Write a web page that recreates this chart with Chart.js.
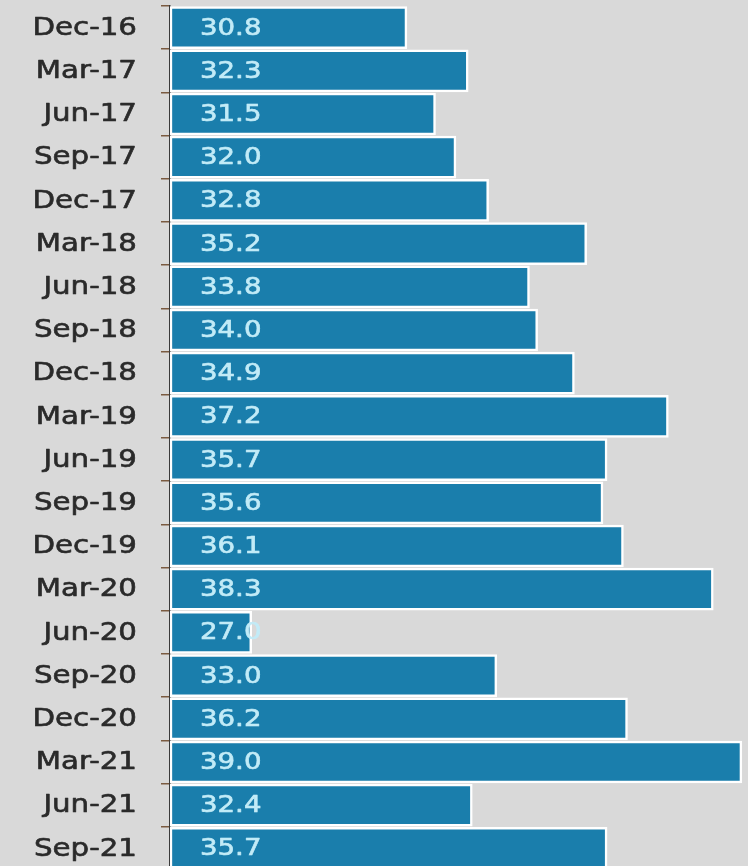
<!DOCTYPE html>
<html>
<head>
<meta charset="utf-8">
<script src="https://cdn.jsdelivr.net/npm/chart.js@4/dist/chart.umd.min.js"></script>
<style>
  html, body { margin: 0; padding: 0; background: #d9d9d9; overflow: hidden; }
</style>
</head>
<body>
<canvas id="chart" width="748" height="870"></canvas>
<script>
const quarters = ['Dec-16', 'Mar-17', 'Jun-17', 'Sep-17', 'Dec-17', 'Mar-18', 'Jun-18', 'Sep-18', 'Dec-18', 'Mar-19',
  'Jun-19', 'Sep-19', 'Dec-19', 'Mar-20', 'Jun-20', 'Sep-20', 'Dec-20', 'Mar-21', 'Jun-21', 'Sep-21'];
const values = [30.8, 32.3, 31.5, 32.0, 32.8, 35.2, 33.8, 34.0, 34.9, 37.2,
  35.7, 35.6, 36.1, 38.3, 27.0, 33.0, 36.2, 39.0, 32.4, 35.7];

const FONT = '"DejaVu Sans", sans-serif';

// the source type is a wide geometric face, so stretch DejaVu a little
function wideText(ctx, text, x, y, align, stretch) {
  ctx.save();
  ctx.translate(x, y);
  ctx.scale(stretch, 1);
  ctx.textAlign = align;
  ctx.strokeText(text, 0, 0);
  ctx.fillText(text, 0, 0);
  ctx.restore();
}

// category names on the left and value text inside each bar start
const textPlugin = {
  id: 'textPlugin',
  afterDatasetsDraw(chart) {
    const { ctx } = chart;
    const yScale = chart.scales.y;
    ctx.save();
    ctx.textBaseline = 'middle';
    ctx.lineWidth = 0.6;
    ctx.lineJoin = 'round';

    ctx.font = `24px ${FONT}`;
    ctx.fillStyle = ctx.strokeStyle = '#2a2a2a';
    yScale.ticks.forEach((t, i) => {
      wideText(ctx, yScale.getLabelForValue(t.value), 137, yScale.getPixelForTick(i) + 1, 'right', 1.22);
    });

    ctx.font = `23px ${FONT}`;
    ctx.fillStyle = ctx.strokeStyle = '#c2ebf7';
    chart.getDatasetMeta(0).data.forEach((bar, i) => {
      wideText(ctx, values[i].toFixed(1), bar.base + 30, bar.y + 1, 'left', 1.2);
    });
    ctx.restore();
  }
};

new Chart(document.getElementById('chart'), {
  type: 'bar',
  plugins: [textPlugin],
  data: {
    labels: quarters,
    datasets: [{
      data: values,
      base: 25,
      backgroundColor: '#1a7eac',
      borderColor: '#ffffff',
      borderWidth: 2.5,
      borderSkipped: false,
      barThickness: 42,
    }]
  },
  options: {
    indexAxis: 'y',
    responsive: false,
    animation: false,
    layout: { autoPadding: false, padding: { top: 6, right: 0, bottom: 0, left: 0 } },
    scales: {
      x: { display: false, min: 25, max: 39.15 },
      y: {
        afterFit(scale) { scale.width = 170; },
        grid: {
          offset: true,
          drawOnChartArea: false,
          drawTicks: true,
          tickLength: 9,
          color: '#7a5a40',
          lineWidth: 1.5,
        },
        border: { display: true, color: '#3a3a3a', width: 1.5 },
        ticks: { display: false },
      },
    },
    plugins: {
      legend: { display: false },
      tooltip: { enabled: false },
    },
  }
});
</script>
</body>
</html>
